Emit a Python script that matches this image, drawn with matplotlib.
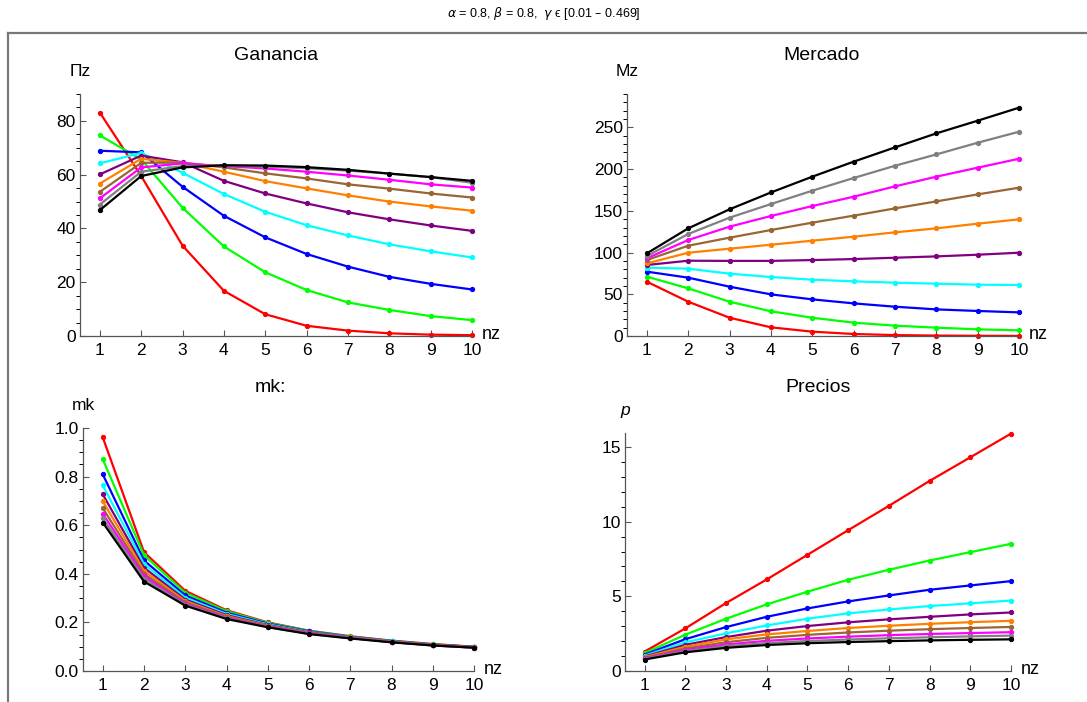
#coding:utf-8
# Ganancia / Mercado / mk / Precios para distintos gamma

import numpy as np
import matplotlib.pyplot as plt
from matplotlib.ticker import MultipleLocator, AutoMinorLocator
from matplotlib.lines import Line2D

plt.rcParams['font.family'] = ['Liberation Sans', 'DejaVu Sans']
plt.rcParams['mathtext.fontset'] = 'dejavusans'

nz = [1, 2, 3, 4, 5, 6, 7, 8, 9, 10]

colores = ['#ff0000', '#00ff00', '#0000ff', '#00ffff', '#800080',
           '#ff8000', '#996633', '#ff00ff', '#808080', '#000000']

# Ganancia (Πz)
gan_rojo    = [83.1, 59.5, 33.6, 16.8, 8.1, 3.8, 2.0, 1.0, 0.5, 0.3]
gan_verde   = [74.6, 65.7, 47.7, 33.3, 23.7, 17.1, 12.5, 9.7, 7.4, 5.9]
gan_azul    = [68.9, 68.3, 55.5, 44.7, 36.7, 30.5, 25.8, 22.0, 19.4, 17.3]
gan_cian    = [64.2, 68.1, 60.7, 52.8, 46.2, 41.2, 37.4, 34.1, 31.5, 29.2]
gan_morado  = [60.1, 67.1, 64.6, 57.7, 53.0, 49.3, 46.0, 43.4, 41.1, 39.1]
gan_naranja = [56.7, 65.9, 64.4, 61.1, 57.6, 54.9, 52.3, 50.0, 48.2, 46.6]
gan_marron  = [53.6, 64.4, 64.5, 62.7, 60.5, 58.6, 56.4, 54.8, 53.0, 51.5]
gan_magenta = [51.2, 62.7, 64.2, 63.2, 62.3, 61.1, 59.7, 58.1, 56.4, 55.2]
gan_gris    = [48.9, 61.1, 63.2, 63.4, 63.0, 62.4, 61.5, 60.4, 59.1, 57.0]
gan_negro   = [46.8, 59.5, 62.7, 63.5, 63.4, 62.8, 61.8, 60.4, 59.1, 57.7]

# Mercado (Mz)
mer_rojo    = [65.1, 41.1, 21.9, 10.4, 5.2, 2.4, 1.1, 0.5, 0.25, 0.1]
mer_verde   = [71.1, 57.1, 41.1, 29.6, 21.9, 16.0, 12.4, 10.0, 8.0, 6.8]
mer_azul    = [77.1, 69.9, 59.1, 49.9, 43.9, 39.1, 35.1, 31.9, 30.0, 28.3]
mer_cian    = [81.9, 80.7, 74.7, 70.7, 67.5, 65.5, 63.9, 62.7, 61.5, 61.1]
mer_morado  = [85.1, 90.2, 90.0, 90.0, 91.0, 92.2, 93.8, 95.4, 97.4, 99.8]
mer_naranja = [87.0, 99.8, 104.6, 109.4, 114.2, 119.0, 124.2, 129.0, 134.6, 139.8]
mer_marron  = [91.0, 108.2, 117.8, 127.0, 135.8, 144.2, 152.9, 161.3, 169.7, 177.7]
mer_magenta = [93.1, 115.0, 131.0, 143.8, 155.7, 166.9, 179.3, 190.9, 201.7, 212.4]
mer_gris    = [95.8, 122.2, 141.8, 158.1, 174.1, 189.3, 204.0, 217.6, 231.6, 244.8]
mer_negro   = [99.0, 129.0, 151.8, 172.0, 190.9, 208.9, 226.0, 242.8, 258.0, 273.6]

# mk
mk_rojo    = [0.961, 0.489, 0.330, 0.250, 0.200, 0.166, 0.143, 0.125, 0.111, 0.100]
mk_verde   = [0.871, 0.476, 0.322, 0.246, 0.198, 0.165, 0.142, 0.124, 0.110, 0.099]
mk_azul    = [0.809, 0.455, 0.311, 0.240, 0.195, 0.163, 0.141, 0.123, 0.109, 0.099]
mk_cian    = [0.764, 0.440, 0.302, 0.235, 0.192, 0.161, 0.140, 0.122, 0.108, 0.098]
mk_morado  = [0.727, 0.425, 0.294, 0.230, 0.189, 0.159, 0.139, 0.121, 0.108, 0.098]
mk_naranja = [0.698, 0.412, 0.288, 0.226, 0.187, 0.157, 0.138, 0.121, 0.107, 0.097]
mk_marron  = [0.670, 0.400, 0.282, 0.223, 0.185, 0.156, 0.137, 0.120, 0.106, 0.097]
mk_magenta = [0.647, 0.390, 0.277, 0.220, 0.183, 0.155, 0.136, 0.119, 0.106, 0.096]
mk_gris    = [0.628, 0.380, 0.273, 0.217, 0.181, 0.153, 0.135, 0.119, 0.105, 0.096]
mk_negro   = [0.611, 0.368, 0.269, 0.214, 0.180, 0.152, 0.134, 0.118, 0.105, 0.096]

# Precios (p)
pre_rojo    = [1.30, 2.85, 4.55, 6.13, 7.78, 9.43, 11.06, 12.73, 14.31, 15.90]
pre_verde   = [1.20, 2.43, 3.50, 4.46, 5.31, 6.11, 6.78, 7.40, 7.96, 8.52]
pre_azul    = [1.10, 2.13, 2.94, 3.63, 4.19, 4.66, 5.06, 5.44, 5.73, 6.02]
pre_cian    = [1.03, 1.92, 2.52, 3.05, 3.50, 3.86, 4.12, 4.35, 4.53, 4.72]
pre_morado  = [0.97, 1.75, 2.27, 2.70, 3.01, 3.26, 3.46, 3.63, 3.79, 3.92]
pre_naranja = [0.93, 1.62, 2.12, 2.45, 2.68, 2.88, 3.03, 3.16, 3.27, 3.36]
pre_marron  = [0.88, 1.50, 1.93, 2.22, 2.42, 2.58, 2.70, 2.80, 2.88, 2.95]
pre_magenta = [0.85, 1.41, 1.78, 2.02, 2.18, 2.30, 2.40, 2.48, 2.54, 2.60]
pre_gris    = [0.81, 1.33, 1.66, 1.87, 2.01, 2.11, 2.19, 2.26, 2.32, 2.37]
pre_negro   = [0.77, 1.25, 1.55, 1.74, 1.86, 1.94, 2.00, 2.05, 2.09, 2.12]

ganancia = [gan_rojo, gan_verde, gan_azul, gan_cian, gan_morado,
            gan_naranja, gan_marron, gan_magenta, gan_gris, gan_negro]
mercado = [mer_rojo, mer_verde, mer_azul, mer_cian, mer_morado,
           mer_naranja, mer_marron, mer_magenta, mer_gris, mer_negro]
mk = [mk_rojo, mk_verde, mk_azul, mk_cian, mk_morado,
      mk_naranja, mk_marron, mk_magenta, mk_gris, mk_negro]
precios = [pre_rojo, pre_verde, pre_azul, pre_cian, pre_morado,
           pre_naranja, pre_marron, pre_magenta, pre_gris, pre_negro]

W, H = 1087, 702
fig = plt.figure(figsize=(W / 100, H / 100), dpi=100)

def px_axes(left, top, right, bottom):
    # ejes en coordenadas de pixel
    return fig.add_axes([left / W, 1 - bottom / H, (right - left) / W, (bottom - top) / H])

def dibujar(ax, series, ymax, paso, menores, titulo, ylab, tx, ty, yital=False):
    for s, c in zip(series, colores):
        ax.plot(nz, s, color=c, lw=1.6, marker='o', ms=2.8, clip_on=False)
    ax.set_xlim(0.52, 10)
    ax.set_ylim(0, ymax)
    ax.xaxis.set_major_locator(MultipleLocator(1))
    ax.yaxis.set_major_locator(MultipleLocator(paso))
    ax.yaxis.set_minor_locator(AutoMinorLocator(menores))
    for lado in ['top', 'right']:
        ax.spines[lado].set_visible(False)
    for lado in ['left', 'bottom']:
        ax.spines[lado].set_color('#555555')
        ax.spines[lado].set_linewidth(0.9)
    ax.tick_params(direction='in', colors='#555555', labelcolor='black', labelsize=12.5)
    ax.tick_params(axis='y', which='major', length=4.5, width=0.8, pad=3)
    ax.tick_params(axis='y', which='minor', length=2.6, width=0.7)
    ax.tick_params(axis='x', which='major', length=4.5, width=0.8, pad=5)
    ax.annotate('nz', xy=(1, 0), xycoords='axes fraction', xytext=(7, 1),
                textcoords='offset points', ha='left', va='center', fontsize=13)
    ax.annotate(ylab, xy=(0, 1), xycoords='axes fraction', xytext=(0, 11),
                textcoords='offset points', ha='center', va='bottom', fontsize=12.5,
                style='italic' if yital else 'normal')
    fig.text(tx / W, 1 - ty / H, titulo, ha='center', va='center', fontsize=14)

ax1 = px_axes(80, 94, 472, 336)
dibujar(ax1, ganancia, 90, 20, 4, 'Ganancia', 'Πz', 276, 56)
ax1.set_yticks([0, 20, 40, 60, 80])

ax2 = px_axes(627, 94, 1019, 336)
dibujar(ax2, mercado, 290, 50, 5, 'Mercado', 'Mz', 822, 56)

ax3 = px_axes(83, 428, 474, 671)
dibujar(ax3, mk, 1.0, 0.2, 4, 'mk:', 'mk', 270, 387)
ax3.yaxis.set_major_formatter(plt.FormatStrFormatter('%.1f'))

ax4 = px_axes(625, 433, 1011, 671)
dibujar(ax4, precios, 15.94, 5, 5, 'Precios', 'p', 818, 388, yital=True)

# marco exterior
fig.add_artist(Line2D([8 / W, 1], [1 - 33 / H, 1 - 33 / H], color='#777777', lw=1.6))
fig.add_artist(Line2D([8 / W, 8 / W], [0, 1 - 33 / H], color='#777777', lw=1.6))

fig.text(0.5, 1 - 14 / H, r'$\alpha$ = 0.8, $\beta$ = 0.8,  $\gamma$ ϵ [0.01 – 0.469]',
         ha='center', va='center', fontsize=9)

fig.savefig('out.png', dpi=100)
